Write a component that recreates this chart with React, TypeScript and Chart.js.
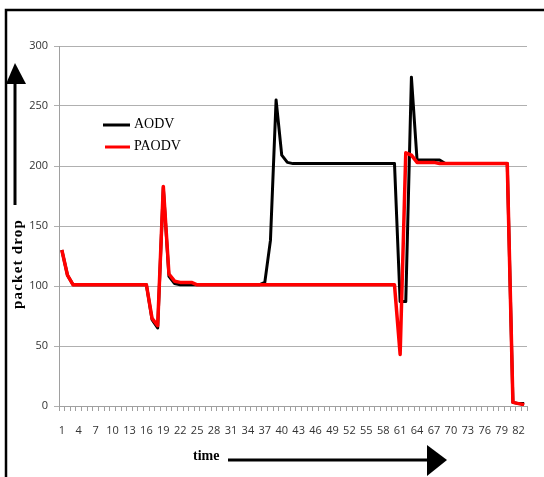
import React, { useEffect, useRef } from "react";
import { Chart, registerables } from "chart.js";

Chart.register(...registerables);

const categories: string[] = Array.from({ length: 83 }, (_, i) => String(i + 1));

const aodv: number[] = [
  130, 109, 101, 101, 101, 101, 101, 101, 101, 101,
  101, 101, 101, 101, 101, 101, 72, 65, 182, 108,
  102, 101, 101, 101, 101, 101, 101, 101, 101, 101,
  101, 101, 101, 101, 101, 101, 103, 138, 255, 209,
  203, 202, 202, 202, 202, 202, 202, 202, 202, 202,
  202, 202, 202, 202, 202, 202, 202, 202, 202, 202,
  87, 87, 274, 205, 205, 205, 205, 205, 202, 202,
  202, 202, 202, 202, 202, 202, 202, 202, 202, 202,
  3, 2, 2,
];

const paodv: number[] = [
  130, 109, 101, 101, 101, 101, 101, 101, 101, 101,
  101, 101, 101, 101, 101, 101, 73, 67, 183, 110,
  104, 103, 103, 103, 101, 101, 101, 101, 101, 101,
  101, 101, 101, 101, 101, 101, 101, 101, 101, 101,
  101, 101, 101, 101, 101, 101, 101, 101, 101, 101,
  101, 101, 101, 101, 101, 101, 101, 101, 101, 101,
  43, 211, 209, 203, 203, 203, 203, 202, 202, 202,
  202, 202, 202, 202, 202, 202, 202, 202, 202, 202,
  3, 2, 1,
];

const yTicks: number[] = [0, 50, 100, 150, 200, 250, 300];
const seriesNames: string[] = ["AODV", "PAODV"];
const seriesColors: string[] = ["#000000", "#ff0000"];
const yTitle = "packet drop";
const xTitle = "time";

const decorPlugin = {
  id: "decor",
  afterDraw(chart: any) {
    const ctx = chart.ctx as CanvasRenderingContext2D;
    ctx.save();
    // frame borders (left & top)
    ctx.strokeStyle = "#000";
    ctx.lineWidth = 2.5;
    ctx.beginPath();
    ctx.moveTo(6, 477);
    ctx.lineTo(6, 10);
    ctx.lineTo(544, 10);
    ctx.stroke();

    // y arrow
    ctx.lineWidth = 3;
    ctx.beginPath();
    ctx.moveTo(15, 205);
    ctx.lineTo(15, 80);
    ctx.stroke();
    ctx.fillStyle = "#000";
    ctx.beginPath();
    ctx.moveTo(15, 63);
    ctx.lineTo(26, 84);
    ctx.lineTo(6, 84);
    ctx.closePath();
    ctx.fill();

    // y title
    ctx.save();
    ctx.translate(18, 264);
    ctx.rotate(-Math.PI / 2);
    ctx.font = "bold 15px 'Liberation Serif'";
    (ctx as any).letterSpacing = "1.2px";
    ctx.textAlign = "center";
    ctx.textBaseline = "middle";
    ctx.fillText(yTitle, 0, 0);
    ctx.restore();

    // x title
    ctx.font = "bold 14px 'Liberation Serif'";
    ctx.textAlign = "left";
    ctx.textBaseline = "middle";
    ctx.fillText(xTitle, 193, 456);

    // x arrow
    ctx.lineWidth = 3;
    ctx.beginPath();
    ctx.moveTo(228, 460);
    ctx.lineTo(430, 460);
    ctx.stroke();
    ctx.beginPath();
    ctx.moveTo(447, 460);
    ctx.lineTo(427, 445);
    ctx.lineTo(427, 476);
    ctx.closePath();
    ctx.fill();

    // legend
    const ly = [125, 147];
    const lx0 = [103, 105];
    ctx.font = "14px 'Liberation Serif'";
    for (let i = 0; i < seriesNames.length; i++) {
      ctx.strokeStyle = seriesColors[i];
      ctx.lineWidth = 3;
      ctx.beginPath();
      ctx.moveTo(lx0[i], ly[i]);
      ctx.lineTo(130, ly[i]);
      ctx.stroke();
      ctx.fillStyle = "#000";
      ctx.textAlign = "left";
      ctx.textBaseline = "middle";
      ctx.fillText(seriesNames[i], 134, ly[i] - 1);
    }
    ctx.restore();
  },
};

export default function App() {
  const ref = useRef<HTMLCanvasElement | null>(null);
  useEffect(() => {
    if (!ref.current) return;
    const chart = new Chart(ref.current, {
      type: "line",
      data: {
        labels: categories,
        datasets: [
          {
            label: seriesNames[1],
            data: paodv,
            borderColor: seriesColors[1],
            backgroundColor: seriesColors[1],
            borderWidth: 3.5,
            pointRadius: 0,
            tension: 0,
            borderJoinStyle: "round",
            order: 0,
          },
          {
            label: seriesNames[0],
            data: aodv,
            borderColor: seriesColors[0],
            backgroundColor: seriesColors[0],
            borderWidth: 3,
            pointRadius: 0,
            tension: 0,
            borderJoinStyle: "round",
            order: 1,
          },
        ],
      },
      options: {
        animation: false,
        responsive: false,
        layout: { padding: { top: 46, right: 17, left: 0, bottom: 0 } },
        plugins: { legend: { display: false }, tooltip: { enabled: false } },
        scales: {
          x: {
            type: "category",
            offset: true,
            grid: {
              display: true,
              drawOnChartArea: false,
              drawTicks: true,
              tickLength: 5,
              color: "#a0a0a0",
              offset: true,
            },
            border: { display: true, color: "#a0a0a0", width: 1 },
            ticks: {
              autoSkip: false,
              maxRotation: 0,
              minRotation: 0,
              padding: 13,
              color: "#333",
              font: { family: "'Open Sans'", size: 11 },
              callback: (_v: any, i: number) => (i % 3 === 0 ? categories[i] : ""),
            },
            afterFit: (s: any) => {
              s.height = 71;
            },
          },
          y: {
            min: 0,
            max: 300,
            afterBuildTicks: (s: any) => {
              s.ticks = yTicks.map((v) => ({ value: v }));
            },
            grid: {
              color: "#b0b0b0",
              tickLength: 5,
              lineWidth: 1,
            },
            border: { display: true, color: "#a0a0a0" },
            ticks: {
              padding: 6,
              color: "#333",
              font: { family: "'Open Sans'", size: 11 },
            },
            afterFit: (s: any) => {
              s.width = 59;
            },
          },
        },
      },
      plugins: [decorPlugin],
    });
    return () => chart.destroy();
  }, []);
  return (
    <div style={{ position: "absolute", left: 0, top: 0, width: 544, height: 477, background: "#fff" }}>
      <canvas ref={ref} width={544} height={477} style={{ display: "block" }} />
    </div>
  );
}
